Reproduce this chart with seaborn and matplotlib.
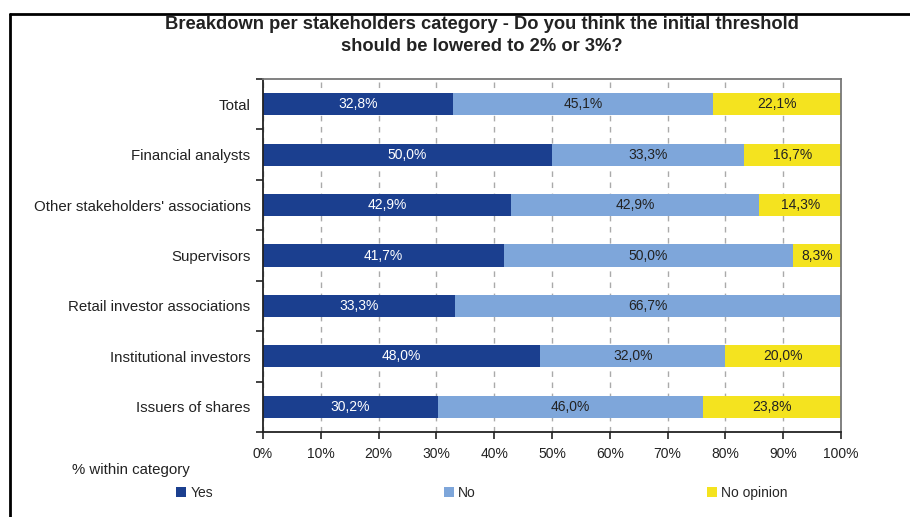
import matplotlib
matplotlib.use("Agg")
import matplotlib.pyplot as plt
from matplotlib.patches import Patch
import numpy as np
import pandas as pd
import seaborn as sns

# Survey results, share of answers within each stakeholder category (%)
categories = [
    "Total",
    "Financial analysts",
    "Other stakeholders' associations",
    "Supervisors",
    "Retail investor associations",
    "Institutional investors",
    "Issuers of shares",
]
yes_pct = [32.8, 50.0, 42.9, 41.7, 33.3, 48.0, 30.2]
no_pct = [45.1, 33.3, 42.9, 50.0, 66.7, 32.0, 46.0]
noop_pct = [22.1, 16.7, 14.3, 8.3, 0.0, 20.0, 23.8]
series_names = ["Yes", "No", "No opinion"]
x_ticks = [0, 10, 20, 30, 40, 50, 60, 70, 80, 90, 100]

colors = {"Yes": "#1b3f8f", "No": "#7ea6da", "No opinion": "#f4e31f"}
text_colors = {"Yes": "white", "No": "#222222", "No opinion": "#222222"}

sns.set_theme(style="white")
plt.rcParams["font.family"] = ["Liberation Sans", "DejaVu Sans"]

df = pd.DataFrame({"category": categories, "Yes": yes_pct, "No": no_pct,
                   "No opinion": noop_pct})
df["end_yes"] = df["Yes"]
df["end_no"] = df["Yes"] + df["No"]
df["end_noop"] = df["end_no"] + df["No opinion"]

fig = plt.figure(figsize=(9.10, 5.17), dpi=100)
ax = fig.add_axes([263 / 910, 1 - 432 / 517, (841 - 263) / 910, (432 - 79) / 517])

# Stacked bars: draw cumulative ends from the outermost segment inward
for col, name in [("end_noop", "No opinion"), ("end_no", "No"), ("end_yes", "Yes")]:
    sns.barplot(data=df, x=col, y="category", order=categories, orient="h",
                color=colors[name], width=0.44, linewidth=0, saturation=1,
                errorbar=None, ax=ax)

# Segment value labels
for i, row in df.iterrows():
    starts = [0, row["end_yes"], row["end_no"]]
    for s, name in zip(starts, series_names):
        v = row[name]
        if v <= 0:
            continue
        ax.text(s + v / 2, i, f"{v:.1f}%".replace(".", ","), ha="center",
                va="center", fontsize=10, color=text_colors[name])

ax.set_xlim(0, 100)
ax.set_ylim(6.5, -0.5)
ax.set_xlabel("")
ax.set_ylabel("")
ax.set_xticks(x_ticks)
ax.set_xticklabels([f"{t}%" for t in x_ticks], fontsize=10, color="#222222")
ax.set_yticks(range(len(categories)))
ax.set_yticklabels(categories, fontsize=10.8, color="#222222")
ax.tick_params(axis="y", which="major", length=0, pad=9)
ax.set_yticks(np.arange(-0.5, 7.0, 1.0), minor=True)
ax.tick_params(axis="y", which="minor", length=5, width=1.2, color="#222222",
               direction="out", left=True)
ax.tick_params(axis="x", which="major", length=5, width=1.2, color="#222222",
               direction="out", bottom=True, pad=6)

ax.grid(axis="x", color="#aaaaaa", linestyle=(0, (4, 4)), linewidth=1.0)
ax.set_axisbelow(True)
for side in ["left", "bottom"]:
    ax.spines[side].set_color("#222222")
    ax.spines[side].set_linewidth(1.3)
for side in ["top", "right"]:
    ax.spines[side].set_color("#777777")
    ax.spines[side].set_linewidth(1.3)
    ax.spines[side].set_visible(True)

fig.text(482 / 910, 1 - 16 / 517,
         "Breakdown per stakeholders category - Do you think the initial threshold\n"
         "should be lowered to 2% or 3%?",
         ha="center", va="top", fontsize=13.2, fontweight="bold", color="#222222",
         linespacing=1.4)
fig.text(72 / 910, 1 - 470 / 517, "% within category", ha="left", va="center",
         fontsize=10.8, color="#222222")

handles = [Patch(facecolor=colors[n], edgecolor="none", label=n) for n in series_names]
fig.legend(handles=handles, loc="center left", bbox_to_anchor=(176 / 910, 1 - 493 / 517),
           ncol=3, frameon=False, fontsize=10, handlelength=0.75, handleheight=0.75,
           handletextpad=0.3, columnspacing=16.6, borderpad=0, borderaxespad=0)

# Outer frame lines (left and top)
fig.add_artist(plt.Line2D([10 / 910, 10 / 910], [0, 1 - 14 / 517], color="black",
                          linewidth=2, transform=fig.transFigure))
fig.add_artist(plt.Line2D([10 / 910, 1], [1 - 14 / 517, 1 - 14 / 517], color="black",
                          linewidth=2, transform=fig.transFigure))

fig.savefig("out.png", dpi=100)
